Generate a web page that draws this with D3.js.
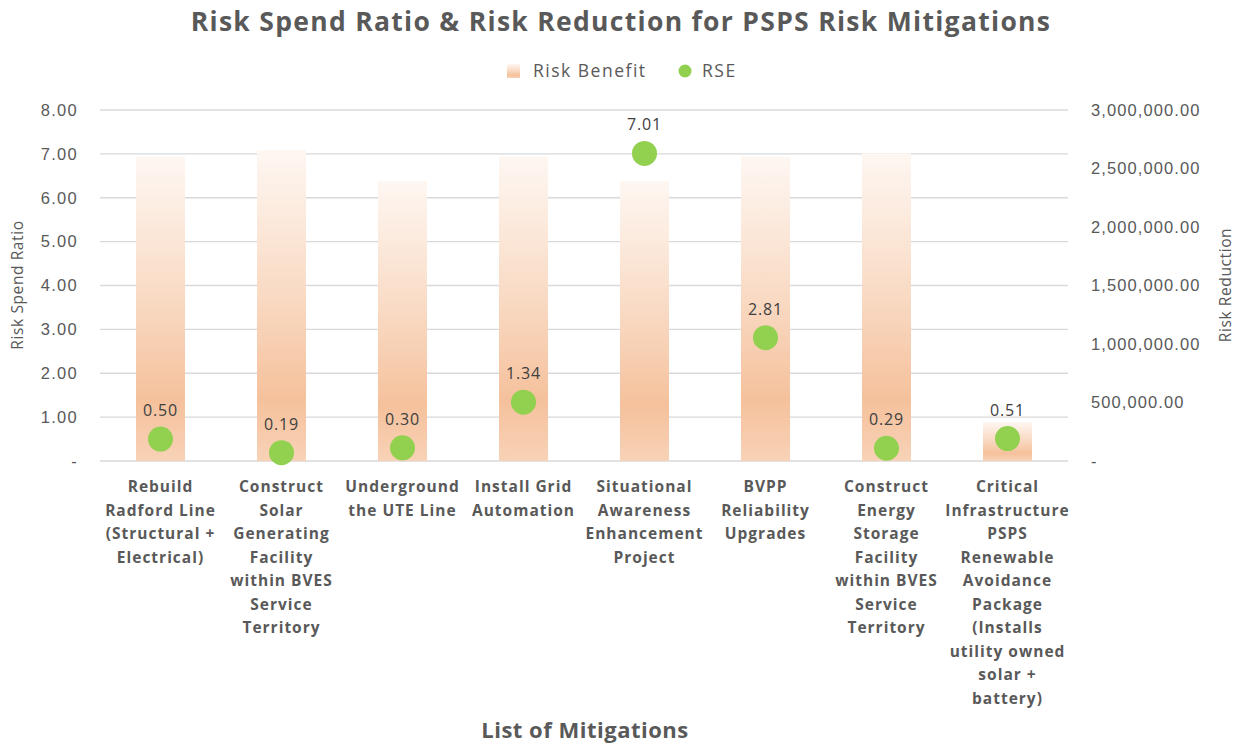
<!DOCTYPE html>
<html>
<head>
<meta charset="utf-8">
<script src="https://cdn.jsdelivr.net/npm/d3@7"></script>
<style>
  body { margin: 0; background: #fff; }
  svg { font-family: "Open Sans", "Liberation Sans", sans-serif; }
</style>
</head>
<body>
<div id="chart"></div>
<script>
// chart data
const categories = [
    ['Rebuild', 'Radford Line', '(Structural +', 'Electrical)'],
    ['Construct', 'Solar', 'Generating', 'Facility', 'within BVES', 'Service', 'Territory'],
    ['Underground', 'the UTE Line'],
    ['Install Grid', 'Automation'],
    ['Situational', 'Awareness', 'Enhancement', 'Project'],
    ['BVPP', 'Reliability', 'Upgrades'],
    ['Construct', 'Energy', 'Storage', 'Facility', 'within BVES', 'Service', 'Territory'],
    ['Critical', 'Infrastructure', 'PSPS', 'Renewable', 'Avoidance', 'Package', '(Installs', 'utility owned', 'solar +', 'battery)']
];
const riskBenefit = [2600000, 2658000, 2393000, 2600000, 2393000, 2600000, 2630000, 336000];
const rse = [0.50, 0.19, 0.30, 1.34, 7.01, 2.81, 0.29, 0.51];
const leftTicks = [0, 1, 2, 3, 4, 5, 6, 7, 8];
const rightTicks = [0, 500000, 1000000, 1500000, 2000000, 2500000, 3000000];

const W = 1243, H = 745;
const margin = { top: 110, right: 175, bottom: 284, left: 100 };
const width = W - margin.left - margin.right;
const height = H - margin.top - margin.bottom;
const textColor = '#595959';

const svg = d3.select('#chart').append('svg')
    .attr('width', W)
    .attr('height', H);

const defs = svg.append('defs');
const grad = defs.append('linearGradient')
    .attr('id', 'barGrad')
    .attr('x1', 0).attr('y1', 0).attr('x2', 0).attr('y2', 1);
grad.append('stop').attr('offset', '0%').attr('stop-color', '#fef7f2');
grad.append('stop').attr('offset', '45%').attr('stop-color', '#f9dbc5');
grad.append('stop').attr('offset', '80%').attr('stop-color', '#f5c19c');
grad.append('stop').attr('offset', '100%').attr('stop-color', '#f8d2b7');

const g = svg.append('g')
    .attr('transform', `translate(${margin.left}, ${margin.top})`);

const x = d3.scaleBand()
    .domain(d3.range(categories.length))
    .range([0, width])
    .paddingInner(0.595)
    .paddingOuter(0.2975);

const yLeft = d3.scaleLinear().domain([0, 8]).range([height, 0]);
const yRight = d3.scaleLinear().domain([0, 3000000]).range([height, 0]);

// gridlines
g.append('g')
    .selectAll('line')
    .data(leftTicks)
    .enter().append('line')
    .attr('x1', 0)
    .attr('x2', width)
    .attr('y1', d => yLeft(d))
    .attr('y2', d => yLeft(d))
    .attr('stroke', '#d9d9d9')
    .attr('stroke-width', 1.3);

// left axis
const leftAxis = g.append('g')
    .call(d3.axisLeft(yLeft).tickValues(leftTicks)
        .tickFormat(d => d === 0 ? '-' : d3.format('.2f')(d))
        .tickSize(0).tickPadding(22));
leftAxis.select('.domain').remove();
leftAxis.selectAll('text')
    .style('font-size', '16.5px')
    .style('letter-spacing', '1.3px')
    .attr('fill', textColor);

// right axis
const rightAxis = g.append('g')
    .attr('transform', `translate(${width}, 0)`)
    .call(d3.axisRight(yRight).tickValues(rightTicks)
        .tickFormat(d => d === 0 ? '-' : d3.format(',.2f')(d))
        .tickSize(0).tickPadding(23));
rightAxis.select('.domain').remove();
rightAxis.selectAll('text')
    .style('font-size', '16.5px')
    .style('letter-spacing', '1.1px')
    .attr('fill', textColor);

// bars
g.selectAll('.bar')
    .data(riskBenefit)
    .enter().append('rect')
    .attr('class', 'bar')
    .attr('x', (d, i) => x(i))
    .attr('y', d => yRight(d))
    .attr('width', x.bandwidth())
    .attr('height', d => height - yRight(d))
    .attr('fill', 'url(#barGrad)');

// RSE points
g.selectAll('.dot')
    .data(rse)
    .enter().append('circle')
    .attr('class', 'dot')
    .attr('cx', (d, i) => x(i) + x.bandwidth() / 2)
    .attr('cy', d => yLeft(d))
    .attr('r', 12.5)
    .attr('fill', '#92d050');

g.selectAll('.dot-label')
    .data(rse)
    .enter().append('text')
    .attr('class', 'dot-label')
    .attr('x', (d, i) => x(i) + x.bandwidth() / 2)
    .attr('y', d => yLeft(d) - 23)
    .attr('text-anchor', 'middle')
    .style('font-size', '16px')
    .style('letter-spacing', '0.8px')
    .attr('fill', '#404040')
    .text(d => d.toFixed(2));

// category labels
const catG = g.selectAll('.cat')
    .data(categories)
    .enter().append('text')
    .attr('class', 'cat')
    .attr('text-anchor', 'middle')
    .attr('transform', (d, i) => `translate(${x(i) + x.bandwidth() / 2}, ${height + 31})`)
    .style('font-size', '15.5px')
    .style('font-weight', 'bold')
    .style('letter-spacing', '1px')
    .attr('fill', textColor);
catG.selectAll('tspan')
    .data(d => d)
    .enter().append('tspan')
    .attr('x', 0)
    .attr('y', (d, j) => j * 23.5)
    .text(d => d);

// title
svg.append('text')
    .attr('x', 621)
    .attr('y', 31)
    .attr('text-anchor', 'middle')
    .style('font-size', '26.5px')
    .style('font-weight', 'bold')
    .style('letter-spacing', '1.3px')
    .attr('fill', textColor)
    .text('Risk Spend Ratio & Risk Reduction for PSPS Risk Mitigations');

// axis titles
svg.append('text')
    .attr('transform', 'translate(23, 285) rotate(-90)')
    .attr('text-anchor', 'middle')
    .style('font-size', '15.5px')
    .style('letter-spacing', '0.6px')
    .attr('fill', textColor)
    .text('Risk Spend Ratio');

svg.append('text')
    .attr('transform', 'translate(1231, 285) rotate(-90)')
    .attr('text-anchor', 'middle')
    .style('font-size', '15.5px')
    .style('letter-spacing', '0.6px')
    .attr('fill', textColor)
    .text('Risk Reduction');

svg.append('text')
    .attr('x', 585)
    .attr('y', 738)
    .attr('text-anchor', 'middle')
    .style('font-size', '22px')
    .style('font-weight', 'bold')
    .style('letter-spacing', '0.5px')
    .attr('fill', textColor)
    .text('List of Mitigations');

// legend
const legend = svg.append('g');
legend.append('rect')
    .attr('x', 507).attr('y', 64)
    .attr('width', 13).attr('height', 14)
    .attr('fill', 'url(#barGrad)');
legend.append('text')
    .attr('x', 533).attr('y', 77)
    .style('font-size', '17.5px')
    .style('letter-spacing', '1.5px')
    .attr('fill', textColor)
    .text('Risk Benefit');
legend.append('circle')
    .attr('cx', 685).attr('cy', 71)
    .attr('r', 6.5)
    .attr('fill', '#92d050');
legend.append('text')
    .attr('x', 702).attr('y', 77)
    .style('font-size', '17.5px')
    .style('letter-spacing', '1.5px')
    .attr('fill', textColor)
    .text('RSE');
</script>
</body>
</html>
